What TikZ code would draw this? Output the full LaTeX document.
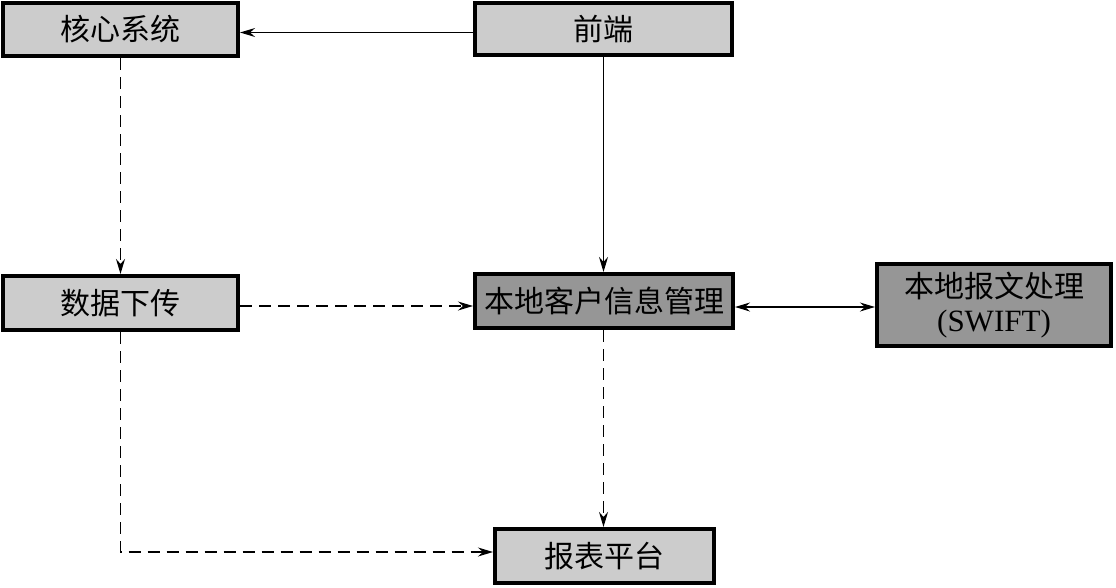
\documentclass[tikz,border=0pt]{standalone}
\usepackage{fontspec}
\setmainfont{Liberation Serif}
\newfontfamily\cjk{Noto Sans CJK SC}
\usetikzlibrary{arrows.meta}
\definecolor{lightbox}{RGB}{204,204,204}
\definecolor{darkbox}{RGB}{150,150,150}
\tikzset{
  box/.style={draw=black, line width=3.6pt, inner sep=0pt, font=\cjk\fontsize{30}{34}\selectfont, align=center},
  lbox/.style={box, fill=lightbox},
  dbox/.style={box, fill=darkbox},
  tip/.tip={Stealth[length=15pt,width=9pt,inset=5pt]},
  conn/.style={line width=1.1pt, -tip},
  dconn/.style={conn, dash pattern=on 12pt off 7pt},
}
\begin{document}
\begin{tikzpicture}[x=1pt,y=-1pt]
\useasboundingbox (0,0) rectangle (1116,587);
\fill[white] (0,0) rectangle (1116,587);
\node[lbox, minimum width=235.5pt, minimum height=53.5pt] (hx) at (120.5,29.5) {核心系统};
\node[lbox, minimum width=257.5pt, minimum height=52.5pt] (qd) at (603.5,29) {前端};
\node[lbox, minimum width=235.5pt, minimum height=54.5pt] (sj) at (120.5,303) {数据下传};
\node[dbox, minimum width=258.5pt, minimum height=54.5pt] (bd) at (604,301) {本地客户信息管理};
\node[dbox, minimum width=234.5pt, minimum height=82.5pt] (bw) at (994,305) {本地报文处理\\[0pt]{\rmfamily\fontsize{31}{34}\selectfont (SWIFT)}};
\node[lbox, minimum width=219.5pt, minimum height=54.5pt] (bb) at (604.5,556) {报表平台};
\coordinate (turn) at (sj.south |- bb.west);
\draw[conn] ([yshift=-3.5pt]qd.west) -- ([yshift=-3.5pt]qd.west -| hx.east);
\draw[conn] (qd.south) -- (qd.south |- bd.north);
\draw[dconn] (hx.south) -- (sj.north);
\draw[dconn] ([yshift=-3pt]sj.east) -- ([yshift=-3pt]sj.east -| bd.west);
\draw[conn, tip-tip] ([yshift=-6pt]bd.east) -- ([yshift=-6pt]bd.east -| bw.west);
\draw[dconn] (bd.south -| qd.south) -- (qd.south |- bb.north);
\draw[dconn] (sj.south) -- ([yshift=4pt]turn) -- ([yshift=4pt]bb.west);
\end{tikzpicture}
\end{document}
